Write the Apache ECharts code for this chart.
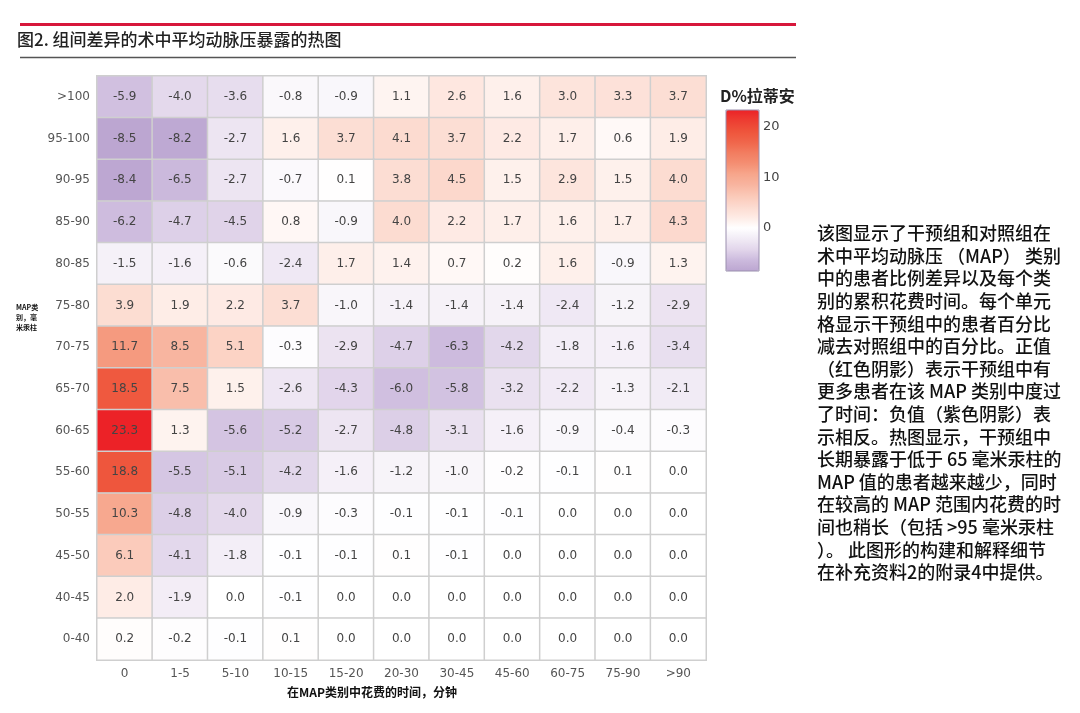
<!DOCTYPE html>
<html>
<head>
<meta charset="utf-8">
<script src="https://cdn.jsdelivr.net/npm/echarts@6/dist/echarts.min.js"></script>
<style>
html,body{margin:0;padding:0;background:#fff;}
#chart{width:1080px;height:713px;}
</style>
</head>
<body>
<div id="chart"></div>
<script>
const xCategories = ['0','1-5','5-10','10-15','15-20','20-30','30-45','45-60','60-75','75-90','>90'];
const yCategories = ['>100','95-100','90-95','85-90','80-85','75-80','70-75','65-70','60-65','55-60','50-55','45-50','40-45','0-40'];
const values = [
  [-5.9, -4.0, -3.6, -0.8, -0.9, 1.1, 2.6, 1.6, 3.0, 3.3, 3.7],
  [-8.5, -8.2, -2.7, 1.6, 3.7, 4.1, 3.7, 2.2, 1.7, 0.6, 1.9],
  [-8.4, -6.5, -2.7, -0.7, 0.1, 3.8, 4.5, 1.5, 2.9, 1.5, 4.0],
  [-6.2, -4.7, -4.5, 0.8, -0.9, 4.0, 2.2, 1.7, 1.6, 1.7, 4.3],
  [-1.5, -1.6, -0.6, -2.4, 1.7, 1.4, 0.7, 0.2, 1.6, -0.9, 1.3],
  [3.9, 1.9, 2.2, 3.7, -1.0, -1.4, -1.4, -1.4, -2.4, -1.2, -2.9],
  [11.7, 8.5, 5.1, -0.3, -2.9, -4.7, -6.3, -4.2, -1.8, -1.6, -3.4],
  [18.5, 7.5, 1.5, -2.6, -4.3, -6.0, -5.8, -3.2, -2.2, -1.3, -2.1],
  [23.3, 1.3, -5.6, -5.2, -2.7, -4.8, -3.1, -1.6, -0.9, -0.4, -0.3],
  [18.8, -5.5, -5.1, -4.2, -1.6, -1.2, -1.0, -0.2, -0.1, 0.1, 0.0],
  [10.3, -4.8, -4.0, -0.9, -0.3, -0.1, -0.1, -0.1, 0.0, 0.0, 0.0],
  [6.1, -4.1, -1.8, -0.1, -0.1, 0.1, -0.1, 0.0, 0.0, 0.0, 0.0],
  [2.0, -1.9, 0.0, -0.1, 0.0, 0.0, 0.0, 0.0, 0.0, 0.0, 0.0],
  [0.2, -0.2, -0.1, 0.1, 0.0, 0.0, 0.0, 0.0, 0.0, 0.0, 0.0]
];
const colorbarMin = -8.5;
const colorbarMax = 23.3;
const colorbarTicks = [0, 10, 20];

const titleText = '图2. 组间差异的术中平均动脉压暴露的热图';
const legendTitle = 'D%拉蒂安';
const xAxisTitle = '在MAP类别中花费的时间，分钟';
const yAxisTitle = 'MAP类\n别，毫\n米汞柱';
const noteLines = [
  '该图显示了干预组和对照组在',
  '术中平均动脉压 （MAP） 类别',
  '中的患者比例差异以及每个类',
  '别的累积花费时间。每个单元',
  '格显示干预组中的患者百分比',
  '减去对照组中的百分比。正值',
  '（红色阴影）表示干预组中有',
  '更多患者在该 MAP 类别中度过',
  '了时间：负值（紫色阴影）表',
  '示相反。热图显示，干预组中',
  '长期暴露于低于 65 毫米汞柱的',
  'MAP 值的患者越来越少，同时',
  '在较高的 MAP 范围内花费的时',
  '间也稍长（包括 >95 毫米汞柱',
  '）。 此图形的构建和解释细节',
  '在补充资料2的附录4中提供。'
];

const heatData = [];
values.forEach((row, yi) => row.forEach((v, xi) => heatData.push([xi, yi, v])));

const cjk = '"Noto Sans CJK SC", "Noto Sans", sans-serif';
const numFont = '"DejaVu Sans", "Noto Sans", sans-serif';

const chart = echarts.init(document.getElementById('chart'), null, {renderer: 'canvas'});
chart.setOption({
  backgroundColor: '#ffffff',
  animation: false,
  grid: [
    {left: 97, top: 76, width: 609, height: 584, show: true, borderColor: '#cfcfcf', borderWidth: 1.5, backgroundColor: 'transparent'},
    {left: 726, top: 110, width: 33, height: 161, show: true, borderColor: '#9a8fae', borderWidth: 1, backgroundColor: 'transparent', z: 10}
  ],
  xAxis: [
    {
      type: 'category', data: xCategories, gridIndex: 0,
      axisLine: {show: false}, axisTick: {show: false}, splitLine: {show: false},
      axisLabel: {color: '#555', fontSize: 12, fontFamily: numFont, margin: 8}
    },
    {type: 'value', gridIndex: 1, show: false, min: 0, max: 1}
  ],
  yAxis: [
    {
      type: 'category', data: yCategories, gridIndex: 0, inverse: true,
      axisLine: {show: false}, axisTick: {show: false}, splitLine: {show: false},
      axisLabel: {color: '#555', fontSize: 12, fontFamily: numFont, margin: 7}
    },
    {
      type: 'value', gridIndex: 1, position: 'right', min: colorbarMin, max: colorbarMax,
      axisLine: {show: false}, splitLine: {show: false},
      axisTick: {show: true, inside: false, length: 5, lineStyle: {color: '#555', width: 1.2}, customValues: colorbarTicks},
      axisLabel: {color: '#444', fontSize: 13, fontFamily: numFont, margin: 4, customValues: colorbarTicks}
    }
  ],
  visualMap: {
    type: 'continuous', seriesIndex: 0, min: colorbarMin, max: colorbarMax,
    calculable: false, showLabel: false, text: ['', ''], hoverLink: false,
    orient: 'vertical', left: 726, top: 110, itemWidth: 33, itemHeight: 161, padding: 0,
    inRange: {
      color: ['#bca6d1','#ccbadd','#e2d6eb','#f1ebf5','#ffffff','#feebe5','#fcdacf','#fbc9b8','#f8b5a0','#f7a68c','#f48f73','#f27d60','#f0664b','#ee543b','#ed3e32','#ec2227']
    }
  },
  series: [{
    type: 'heatmap', xAxisIndex: 0, yAxisIndex: 0, data: heatData,
    itemStyle: {borderColor: '#cfcfcf', borderWidth: 1.5},
    label: {
      show: true, color: '#444', fontSize: 12, fontFamily: numFont,
      formatter: p => p.value[2].toFixed(1)
    },
    emphasis: {disabled: true}
  }],
  graphic: [
    {type: 'line', shape: {x1: 20, y1: 24.5, x2: 796, y2: 24.5}, style: {stroke: '#d7173b', lineWidth: 3}},
    {type: 'line', shape: {x1: 20, y1: 57.5, x2: 796, y2: 57.5}, style: {stroke: '#555', lineWidth: 1.5}},
    {type: 'text', left: 17, top: 31, style: {text: titleText, font: '500 17px ' + cjk, fill: '#222'}},
    {type: 'text', left: 720, top: 88, style: {text: legendTitle, font: 'bold 16px ' + cjk, fill: '#222'}},
    {type: 'text', left: 287, top: 686, style: {text: xAxisTitle, font: 'bold 12px ' + cjk, fill: '#111'}},
    {type: 'text', left: 16, top: 302, style: {text: yAxisTitle, font: 'bold 7px ' + cjk, fill: '#111', lineHeight: 10}},
    {type: 'text', left: 817, top: 222, style: {text: noteLines.join('\n'), font: '500 18px ' + cjk, fill: '#111', lineHeight: 22.6}}
  ]
});
</script>
</body>
</html>
